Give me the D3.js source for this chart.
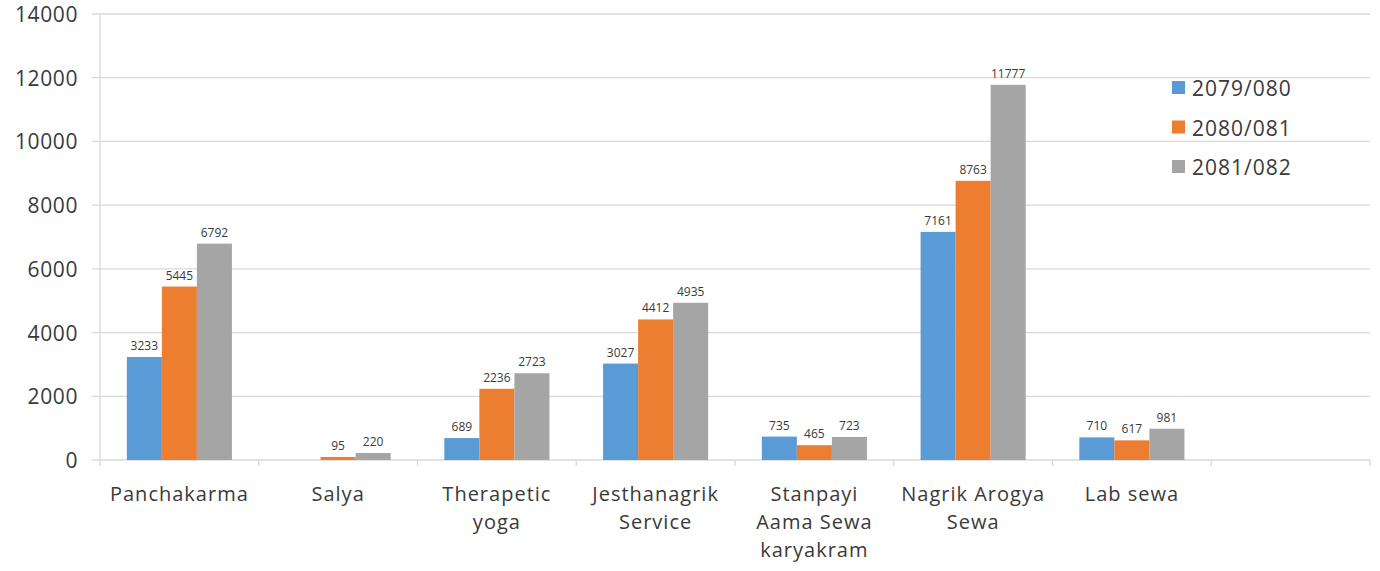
<!DOCTYPE html>
<html>
<head>
<meta charset="utf-8">
<script src="https://cdn.jsdelivr.net/npm/d3@7"></script>
<style>
  body { margin: 0; background: #fff; }
  svg text { font-family: "Open Sans", sans-serif; fill: #3a3a3a; }
</style>
</head>
<body>
<svg width="1380" height="571"></svg>
<script>
// categorias (la ultima va vacia, como en el original)
const categorias = ["Panchakarma", "Salya", "Therapetic\nyoga", "Jesthanagrik\nService",
  "Stanpayi\nAama Sewa\nkaryakram", "Nagrik Arogya\nSewa", "Lab sewa", ""];
const series = ["2079/080", "2080/081", "2081/082"];
const valores2079 = [3233, null, 689, 3027, 735, 7161, 710, null];
const valores2080 = [5445, 95, 2236, 4412, 465, 8763, 617, null];
const valores2081 = [6792, 220, 2723, 4935, 723, 11777, 981, null];
const ticksY = [0, 2000, 4000, 6000, 8000, 10000, 12000, 14000];
const colores = ["#5b9bd5", "#ed7d31", "#a5a5a5"];

const datos = [valores2079, valores2080, valores2081];
const svg = d3.select("svg");
const izq = 100, der = 1370, arriba = 14, abajo = 460;

const x = d3.scaleBand().domain(d3.range(categorias.length))
    .range([izq, der]).paddingInner(0.338).paddingOuter(0.169);
const xs = d3.scaleBand().domain(series).range([0, x.bandwidth()]);
const y = d3.scaleLinear().domain([0, 14000]).range([abajo, arriba]);

// lineas de la grilla
svg.append("g").selectAll("line").data(ticksY).enter().append("line")
    .attr("x1", izq - 8).attr("x2", der)
    .attr("y1", d => y(d)).attr("y2", d => y(d))
    .attr("stroke", "#d9d9d9").attr("stroke-width", 1.3);

svg.append("g").selectAll("text").data(ticksY).enter().append("text")
    .attr("x", 78).attr("y", d => y(d) + 8)
    .attr("text-anchor", "end")
    .style("font-size", "21px").style("letter-spacing", "0.6px")
    .text(d => d);

// eje vertical
svg.append("line").attr("x1", izq).attr("x2", izq).attr("y1", arriba).attr("y2", abajo)
    .attr("stroke", "#d9d9d9").attr("stroke-width", 1.3);

// marcas entre categorias
const step = x.step();
const limites = d3.range(categorias.length + 1).map(i => izq + i * step);
svg.append("g").selectAll("line").data(limites).enter().append("line")
    .attr("x1", d => d).attr("x2", d => d)
    .attr("y1", abajo).attr("y2", abajo + 6)
    .attr("stroke", "#d9d9d9").attr("stroke-width", 1.3);

// barras
series.forEach(function (s, si) {
  const g = svg.append("g");
  const filas = datos[si].map((v, i) => ({ i: i, v: v })).filter(d => d.v !== null);
  g.selectAll("rect").data(filas).enter().append("rect")
      .attr("x", d => x(d.i) + xs(s))
      .attr("y", d => y(d.v))
      .attr("width", xs.bandwidth())
      .attr("height", d => abajo - y(d.v))
      .attr("fill", colores[si]);
  g.selectAll("text").data(filas).enter().append("text")
      .attr("x", d => x(d.i) + xs(s) + xs.bandwidth() / 2)
      .attr("y", d => y(d.v) - 7)
      .attr("text-anchor", "middle")
      .style("font-size", "12px")
      .text(d => d.v);
});

// etiquetas de categorias
categorias.forEach(function (c, i) {
  const lineas = c.split("\n");
  const t = svg.append("text")
      .attr("x", x(i) + x.bandwidth() / 2)
      .attr("y", 501)
      .attr("text-anchor", "middle")
      .style("font-size", "20px").style("letter-spacing", "1px");
  lineas.forEach(function (l, j) {
    t.append("tspan").attr("x", x(i) + x.bandwidth() / 2)
        .attr("dy", j === 0 ? 0 : 28).text(l);
  });
});

// leyenda
const leyenda = svg.append("g").attr("transform", "translate(1172,88)");
series.forEach(function (s, i) {
  leyenda.append("rect").attr("x", 0).attr("y", i * 39.5 - 7).attr("width", 13).attr("height", 13)
      .attr("fill", colores[i]);
  leyenda.append("text").attr("x", 20).attr("y", i * 39.5 + 8)
      .style("font-size", "21px").style("letter-spacing", "1px")
      .text(s);
});
</script>
</body>
</html>
